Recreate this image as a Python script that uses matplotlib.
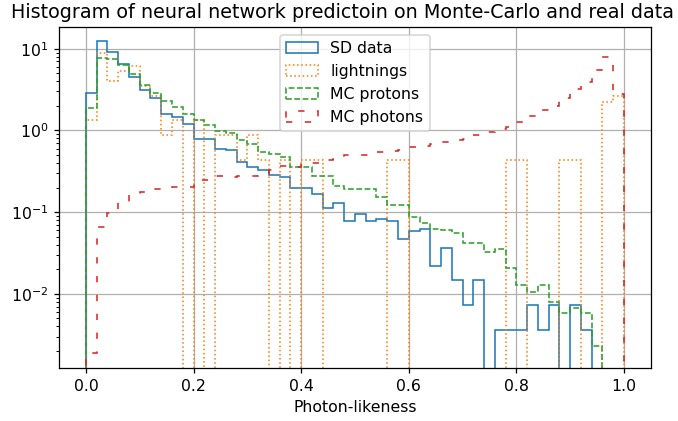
import numpy as np
import matplotlib
matplotlib.use("Agg")
import matplotlib.pyplot as plt

bin_edges = np.linspace(0.0, 1.0, 51)

sd_data = [2.84, 12.4, 9.15, 6.43, 4.53, 3.11, 2.51, 1.61, 1.47, 1.19,
           0.78, 0.78, 0.60, 0.585, 0.413, 0.358, 0.327, 0.284, 0.266, 0.195,
           0.195, 0.169, 0.113, 0.131, 0.078, 0.095, 0.078, 0.0815, 0.078, 0.047,
           0.0585, 0.062, 0.022, 0.0367, 0.0146, 0.0073, 0.0146, 0.0, 0.00362, 0.00362,
           0.00362, 0.0073, 0.00362, 0.0073, 0.0, 0.0073, 0.00362, 0.0, 0.0, 0.0]

lightnings = [1.33, 8.8, 3.98, 5.31, 6.19, 3.54, 2.65, 0.89, 1.33, 0.0,
              1.33, 0.0, 0.89, 0.89, 0.44, 0.89, 0.44, 0.0, 0.44, 0.0,
              0.44, 0.44, 0.0, 0.0, 0.0, 0.0, 0.0, 0.0, 0.44, 0.44,
              0.0, 0.0, 0.0, 0.0, 0.0, 0.0, 0.0, 0.0, 0.0, 0.44,
              0.44, 0.0, 0.0, 0.0, 0.44, 0.44, 0.0, 0.0, 2.21, 2.65]

mc_protons = [1.89, 7.8, 7.4, 6.3, 4.85, 3.6, 2.84, 2.28, 1.95, 1.61,
              1.34, 1.16, 0.98, 0.94, 0.76, 0.674, 0.547, 0.52, 0.467, 0.358,
              0.358, 0.276, 0.276, 0.208, 0.19, 0.19, 0.19, 0.154, 0.122, 0.122,
              0.087, 0.073, 0.063, 0.060, 0.055, 0.042, 0.042, 0.033, 0.035, 0.0205,
              0.013, 0.0104, 0.013, 0.008, 0.0059, 0.0068, 0.0059, 0.0023, 0.0, 0.0]

mc_photons = [0.0019, 0.065, 0.099, 0.133, 0.162, 0.177, 0.19, 0.20, 0.203, 0.205,
              0.247, 0.25, 0.276, 0.27, 0.28, 0.28, 0.30, 0.33, 0.366, 0.36,
              0.38, 0.40, 0.44, 0.45, 0.50, 0.50, 0.50, 0.55, 0.56, 0.575,
              0.62, 0.64, 0.69, 0.72, 0.76, 0.776, 0.89, 0.96, 1.05, 1.11,
              1.27, 1.51, 1.77, 2.0, 2.5, 3.18, 3.87, 5.5, 8.0, 2.78]

labels = ["SD data", "lightnings", "MC protons", "MC photons"]
colors = ["#1f77b4", "#ff7f0e", "#2ca02c", "#d62728"]
styles = ["-", ":", "--", (0, (4, 8))]

DPI = 113
fig = plt.figure(figsize=(678 / DPI, 421 / DPI), dpi=DPI)
ax = fig.add_axes([0.087, 0.126, 0.873, 0.810])

centers = 0.5 * (bin_edges[:-1] + bin_edges[1:])
for vals, lab, col, ls in zip([sd_data, lightnings, mc_protons, mc_photons], labels, colors, styles):
    ax.hist(centers, bins=bin_edges, weights=vals, histtype="step",
            color=col, linestyle=ls, label=lab)

ax.set_yscale("log")
ax.set_xlim(-0.05, 1.05)
ax.set_ylim(1.24e-3, 18.5)
ax.grid(True)
ax.set_xlabel("Photon-likeness")
ax.set_title("Histogram of neural network predictoin on Monte-Carlo and real data",
             x=0.479, fontsize=12.2)
ax.legend(loc="upper center")

fig.savefig("out.png", dpi=DPI)
